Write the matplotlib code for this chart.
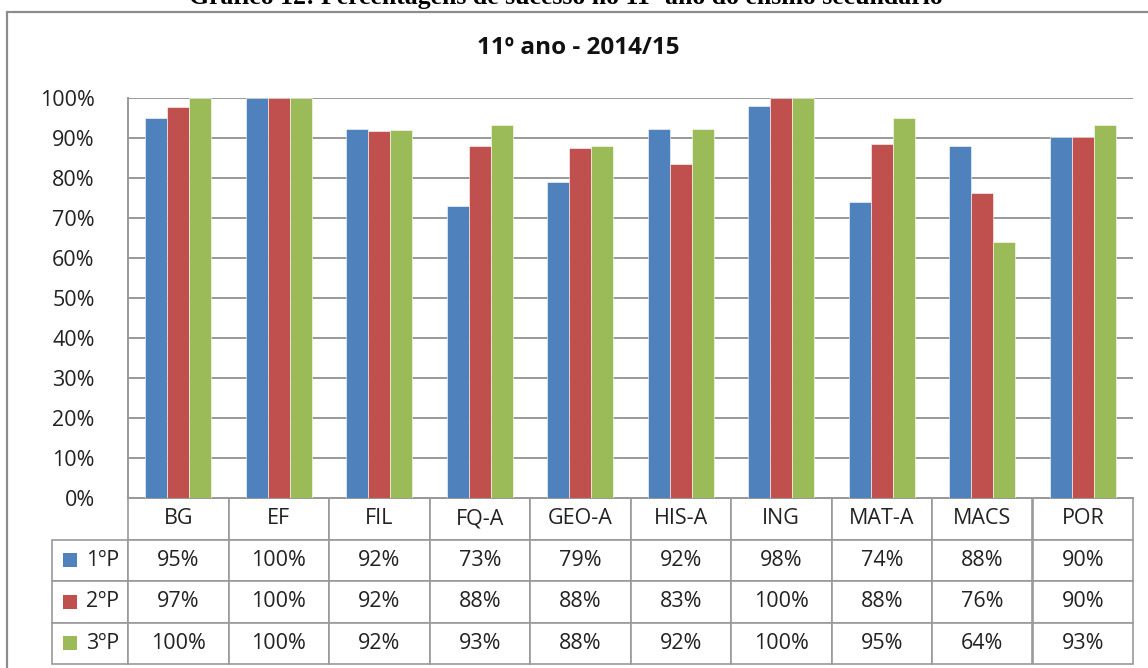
import numpy as np
import matplotlib
matplotlib.use("Agg")
import matplotlib.pyplot as plt
from matplotlib.patches import Rectangle

plt.rcParams['font.family'] = ['Open Sans', 'DejaVu Sans']

# data
disciplinas = ['BG', 'EF', 'FIL', 'FQ-A', 'GEO-A', 'HIS-A', 'ING', 'MAT-A', 'MACS', 'POR']
periodos = ['1ºP', '2ºP', '3ºP']
# bar heights (%)
p1 = [95.0, 100.0, 92.2, 73.0, 79.0, 92.2, 98.0, 74.0, 88.1, 90.2]
p2 = [97.7, 100.0, 91.8, 88.0, 87.6, 83.5, 100.0, 88.4, 76.2, 90.2]
p3 = [100.0, 100.0, 92.1, 93.2, 88.0, 92.2, 100.0, 95.1, 64.0, 93.2]
# values printed in the data table
t1 = [95, 100, 92, 73, 79, 92, 98, 74, 88, 90]
t2 = [97, 100, 92, 88, 88, 83, 100, 88, 76, 90]
t3 = [100, 100, 92, 93, 88, 92, 100, 95, 64, 93]

cores = ['#4F81BD', '#C0504D', '#9BBB59']
cinza = '#999999'
fs = 15.5

W, H = 1148, 668
fig = plt.figure(figsize=(W/100, H/100), dpi=100)

# axes position in pixels
x0, x1, ytop, ybot = 128, 1133, 98, 498
ax = fig.add_axes([x0/W, 1 - ybot/H, (x1-x0)/W, (ybot-ytop)/H])

x = np.arange(len(disciplinas)) + 0.5
bw = 0.22
for k, vals in enumerate([p1, p2, p3]):
    ax.bar(x + (k-1)*bw, vals, width=bw, color=cores[k],
           edgecolor='white', linewidth=0.4, zorder=3)

ax.set_xlim(0, len(disciplinas))
ax.set_ylim(0, 100)
ax.set_yticks(np.arange(0, 101, 10))
ax.set_yticklabels([f'{v}%' for v in range(0, 101, 10)], fontsize=fs, color='#222222')
ax.tick_params(axis='y', length=0, pad=24)
ax.set_xticks([])
ax.grid(axis='y', color=cinza, linewidth=1.4, zorder=0)
for s in ['top', 'right']:
    ax.spines[s].set_visible(False)
for s in ['left', 'bottom']:
    ax.spines[s].set_color(cinza)
    ax.spines[s].set_linewidth(1.4)

# data table below the plot: first column holds the series names
ncol = len(disciplinas)
celltext = [[periodos[i]] + [f'{v}%' for v in row] for i, row in enumerate([t1, t2, t3])]
rl_w = 76 / (x1 - x0)
tab_h = (664 - ybot) / (ybot - ytop)
tab = ax.table(cellText=celltext, colLabels=[''] + disciplinas,
               colWidths=[rl_w] + [1/ncol]*ncol,
               cellLoc='center', colLoc='center',
               bbox=[-rl_w, -tab_h, 1 + rl_w, tab_h])
tab.auto_set_font_size(False)
for (r, c), cell in tab.get_celld().items():
    cell.set_edgecolor(cinza)
    cell.set_linewidth(1.2)
    cell.get_text().set_fontsize(fs)
    cell.get_text().set_color('#222222')
    if c == 0:
        if r == 0:
            cell.visible_edges = ''
        else:
            cell._loc = 'right'
            cell.get_text().set_horizontalalignment('right')
            cell.PAD = 0.12

# legend keys inside the series-name cells
row_y = [560, 602, 643]
for k, yc in enumerate(row_y):
    sx = (63 - x0) / (x1 - x0)
    sy = (ybot - yc - 7) / (ybot - ytop)
    ax.add_patch(Rectangle((sx, sy), 14/(x1-x0), 14/(ybot-ytop), transform=ax.transAxes,
                           facecolor=cores[k], edgecolor='none', clip_on=False, zorder=5))

# chart title
fig.text(578/W, 1 - 48/H, '11º ano - 2014/15', ha='center', va='center',
         fontsize=17.5, fontweight='bold', color='#111111')

# caption above, partly cut off as in the source
fig.text(566/W, 1 - 4/H, 'Gráfico 12: Percentagens de sucesso no 11º ano do ensino secundário',
         ha='center', va='baseline', fontsize=18.5, fontweight='bold',
         family=['Liberation Serif', 'DejaVu Serif'])

# outer chart frame
fig.patches.append(Rectangle((7/W, -0.05), 1.1, 1.05 - 12/H, transform=fig.transFigure,
                             facecolor='none', edgecolor='#8c8c8c', linewidth=1.6, zorder=0))

fig.savefig('out.png', dpi=100)
